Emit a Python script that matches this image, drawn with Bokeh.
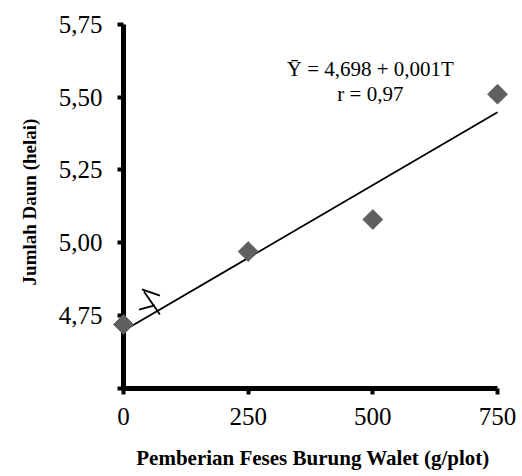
from bokeh.plotting import figure
from bokeh.models import FixedTicker, CustomJSTickFormatter, Label, Range1d, Title
from bokeh.embed import file_html
from bokeh.resources import INLINE
import math

# data
dose = [0, 250, 500, 750]
leaves = [4.72, 4.97, 5.08, 5.51]
intercept = 4.698
slope = 0.001
x_ticks = [0, 250, 500, 750]
y_ticks = [4.5, 4.75, 5.0, 5.25, 5.5, 5.75]
eq_text = "Ȳ = 4,698 + 0,001T"
r_text = "r = 0,97"
x_title = "Pemberian Feses Burung Walet (g/plot)"
y_title = "Jumlah Daun (helai)"

# axis-break decoration strokes
break_xs = [[37, 73], [41, 73], [31, 63]]
break_ys = [[4.840, 4.819], [4.833, 4.754], [4.771, 4.785]]

FONT = "Liberation Serif"

p = figure(width=522, height=476, output_backend="svg", toolbar_location=None,
           x_range=Range1d(0, 760), y_range=Range1d(4.5, 5.78),
           min_border_left=123, min_border_right=20, min_border_top=15, min_border_bottom=88)
p.outline_line_color = None
p.xgrid.visible = False
p.ygrid.visible = False
p.background_fill_color = "white"

# regression line
line_x = [x_ticks[0], x_ticks[-1]]
line_y = [intercept + slope * v for v in line_x]
p.line(line_x, line_y, line_color="black", line_width=1.8)
p.multi_line(break_xs, break_ys, line_color="black", line_width=1.8)

sc = p.scatter(dose, leaves, marker="square", size=14, angle=math.pi / 4,
               fill_color="#5f5f5f", line_color="#5f5f5f")
sc.level = "overlay"

for ax in (p.xaxis[0], p.yaxis[0]):
    ax.axis_line_width = 5
    ax.axis_line_color = "black"
    ax.major_tick_line_width = 4
    ax.major_tick_out = 6
    ax.major_tick_in = 0
    ax.minor_tick_line_color = None
    ax.major_label_text_font = FONT
    ax.major_label_text_font_size = "25px"
    ax.major_label_text_color = "black"

xa = p.xaxis[0]
xa.bounds = (0, 750)
xa.ticker = FixedTicker(ticks=x_ticks)
xa.major_label_standoff = 13
xa.axis_label = x_title
xa.axis_label_text_font = FONT
xa.axis_label_text_font_size = "21px"
xa.axis_label_text_font_style = "bold"
xa.axis_label_text_color = "black"
xa.axis_label_standoff = 18

ya = p.yaxis[0]
ya.bounds = (4.5, 5.75)
ya.ticker = FixedTicker(ticks=y_ticks)
ya.major_label_standoff = 15
ya.formatter = CustomJSTickFormatter(code="return tick <= 4.5001 ? '' : tick.toFixed(2).replace('.', ',');")

p.add_layout(Title(text=y_title, align="center", offset=24, standoff=32,
                   text_font=FONT, text_font_size="19px", text_font_style="bold",
                   text_color="black"), "left")

p.add_layout(Label(x=495, y=5.595, text=eq_text, text_align="center", text_baseline="alphabetic",
                   text_font=FONT, text_font_size="21px", text_color="black"))
p.add_layout(Label(x=495, y=5.512, text=r_text, text_align="center", text_baseline="alphabetic",
                   text_font=FONT, text_font_size="21px", text_color="black"))

open("out.html", "w").write(file_html(p, INLINE))
